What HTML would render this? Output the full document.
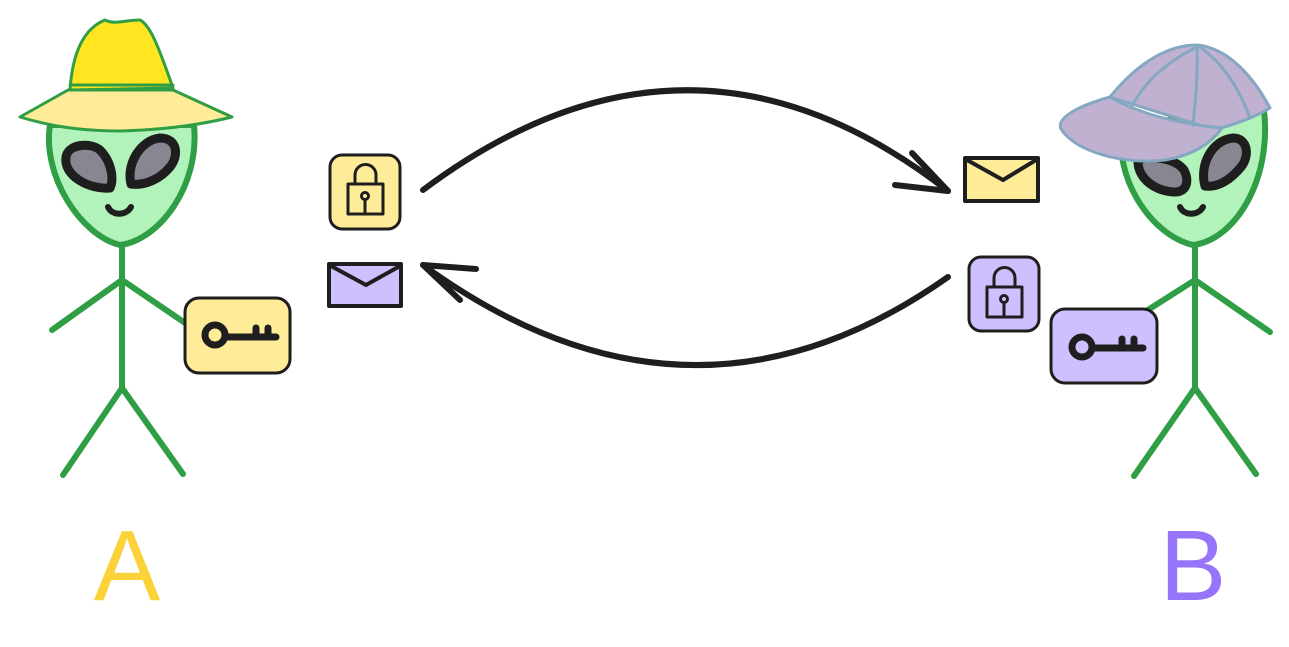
<!DOCTYPE html><html><head><style>body{margin:0;background:#fff}svg{display:block}</style></head><body>
<svg width="1289" height="647" viewBox="0 0 1289 647" xmlns="http://www.w3.org/2000/svg">
<g stroke-linecap="round" stroke-linejoin="round">
<!-- Alien A -->
<g stroke="#2f9e44" stroke-width="6" fill="none">
<line x1="122" y1="245" x2="122" y2="388"/>
<line x1="122" y1="280" x2="52" y2="330"/>
<line x1="122" y1="280" x2="188" y2="325"/>
<line x1="122" y1="388" x2="63" y2="475"/>
<line x1="122" y1="388" x2="183" y2="474"/>
</g>
<path d="M50,125 C42,175 80,235 120,245 C160,240 200,185 194,125 Z" fill="#b2f2bb" stroke="#2f9e44" stroke-width="6"/>
<g fill="#878691" stroke="#1e1e1e" stroke-width="9">
<path d="M66,157 C68,144 90,142 100,150 C112,162 114,180 110,188 C90,190 63,176 66,157Z"/>
<path d="M131,184 C126,165 140,140 160,138 C178,138 179,156 170,167 C161,178 146,186 131,184Z"/>
</g>
<path d="M108,207 C112,216 126,216 131,207" fill="none" stroke="#1e1e1e" stroke-width="6"/>
<path d="M20,117 L68,90 L173,90 L232,117 C200,125 160,130 120,131 C80,131 50,126 20,117Z" fill="#ffec99" stroke="#2f9e44" stroke-width="3"/>
<path d="M70,90 C72,60 80,30 105,20 C115,25 125,20 140,20 C150,25 158,45 173,88 Z" fill="#ffe620" stroke="#2f9e44" stroke-width="3"/>
<line x1="70" y1="85" x2="173" y2="85" stroke="#2f9e44" stroke-width="3"/>
<!-- Alien B -->
<g stroke="#2f9e44" stroke-width="6" fill="none">
<line x1="1195" y1="245" x2="1195" y2="388"/>
<line x1="1195" y1="280" x2="1140" y2="315"/>
<line x1="1195" y1="280" x2="1270" y2="332"/>
<line x1="1195" y1="388" x2="1134" y2="476"/>
<line x1="1195" y1="388" x2="1256" y2="474"/>
</g>
<path d="M1123,125 C1112,175 1150,235 1193,245 C1235,240 1272,180 1264,110 Z" fill="#b2f2bb" stroke="#2f9e44" stroke-width="6"/>
<g fill="#878691" stroke="#1e1e1e" stroke-width="9">
<path d="M1138,160 C1150,155 1175,158 1184,170 C1190,182 1186,192 1175,192 C1158,192 1137,180 1138,160Z"/>
<path d="M1205,186 C1199,165 1212,140 1233,138 C1248,138 1250,156 1241,167 C1232,178 1219,188 1205,186Z"/>
</g>
<path d="M1180,207 C1184,216 1198,216 1203,207" fill="none" stroke="#1e1e1e" stroke-width="6"/>
<path d="M1110,97 C1140,60 1170,45 1197,45 C1230,48 1255,80 1270,108 C1250,120 1230,125 1215,130 L1110,97Z" fill="#c0b1d0" stroke="#84a8c2" stroke-width="3"/>
<path d="M1110,97 C1078,106 1056,118 1061,129 C1075,152 1125,165 1165,160 C1195,155 1212,142 1222,128 C1180,124 1140,114 1110,97Z" fill="#c0b1d0" stroke="#84a8c2" stroke-width="3"/>
<g fill="none" stroke="#84a8c2" stroke-width="3">
<path d="M1131,108 C1145,80 1170,60 1197,47"/>
<path d="M1193,125 C1196,95 1198,70 1197,47"/>
<path d="M1250,118 C1240,90 1225,65 1200,47"/>
</g>
<!-- arrows -->
<g fill="none" stroke="#1e1e1e" stroke-width="6">
<path d="M423,190 Q690,-10 948,191"/>
<path d="M912,153 L948,191 L895,185"/>
<path d="M948,277 Q690,459 423,265"/>
<path d="M476,269 L423,265 L460,300"/>
</g>
<!-- boxes -->
<g stroke="#1e1e1e" stroke-width="3">
<rect x="330" y="155" width="70" height="74" rx="12" fill="#ffec99"/>
<rect x="969" y="257" width="70" height="74" rx="12" fill="#d0bfff"/>
<rect x="185" y="298" width="105" height="75" rx="14" fill="#ffec99"/>
<rect x="1051" y="309" width="106" height="74" rx="14" fill="#d0bfff"/>
<rect x="329" y="264" width="72" height="42" fill="#d0bfff" stroke-width="4"/>
<path d="M331,266 L366,285 L400,266" fill="none" stroke-width="4"/>
<rect x="965" y="158" width="73" height="43" fill="#ffec99" stroke-width="4"/>
<path d="M967,160 L1003,180 L1036,160" fill="none" stroke-width="4"/>
</g>
<!-- locks -->
<g fill="none" stroke="#1e1e1e" stroke-width="3">
<rect x="348" y="184" width="35" height="30"/><path d="M355,184 V175 a10.5,10.5 0 0 1 21,0 V184"/>
<circle cx="365" cy="196" r="3.5"/><line x1="365" y1="200" x2="365" y2="213"/>
<rect x="987" y="287" width="35" height="30"/><path d="M994,287 V278 a10.5,10.5 0 0 1 21,0 V287"/>
<circle cx="1004" cy="299" r="3.5"/><line x1="1004" y1="303" x2="1004" y2="316"/>
</g>
<!-- keys -->
<g fill="none" stroke="#1e1e1e" stroke-width="7">
<circle cx="215" cy="335" r="10"/><path d="M226,337 H276 M256,337 V328 M268,337 V328"/>
<circle cx="1082" cy="347" r="10"/><path d="M1093,348 H1143 M1122,348 V339 M1134,348 V339"/>
</g>
</g>
<text x="127" y="600" font-family="Liberation Sans, sans-serif" font-size="100" fill="#fcd23a" text-anchor="middle">A</text>
<text x="1193" y="600" font-family="Liberation Sans, sans-serif" font-size="100" fill="#9775fa" text-anchor="middle">B</text>
</svg>
</body></html>
